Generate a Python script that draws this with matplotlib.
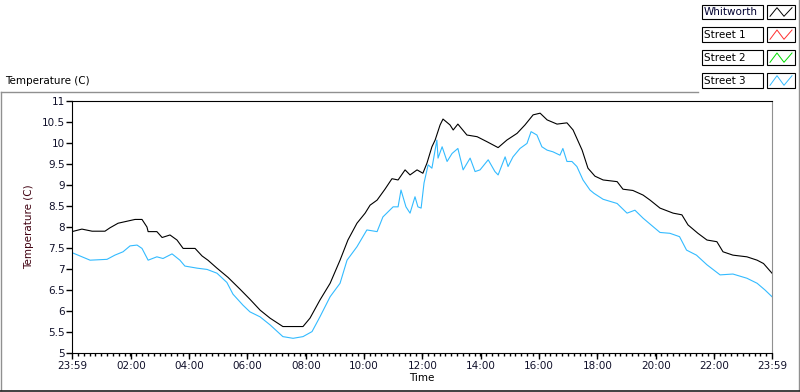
import matplotlib
matplotlib.use("Agg")
import matplotlib.pyplot as plt
from matplotlib.lines import Line2D
from matplotlib.patches import Rectangle
from matplotlib.ticker import MultipleLocator

# hours since 23:59 of the previous day
whit_t = [0.0, 0.34, 0.69, 1.13, 1.30, 1.58, 2.16, 2.40, 2.57, 2.61, 2.91, 3.09, 3.36,
          3.60, 3.81, 4.22, 4.46, 4.66, 4.97, 5.35, 5.76, 6.10, 6.45, 6.79, 7.23, 7.92,
          8.16, 8.50, 8.85, 9.19, 9.46, 9.77, 10.05, 10.22, 10.46, 10.73, 10.97, 11.18,
          11.42, 11.59, 11.83, 12.03, 12.17, 12.34, 12.45, 12.62, 12.72, 12.96, 13.07,
          13.23, 13.54, 13.89, 14.23, 14.61, 14.91, 15.26, 15.53, 15.81, 16.05, 16.29,
          16.63, 16.97, 17.18, 17.49, 17.69, 17.93, 18.21, 18.69, 18.89, 19.23, 19.58,
          19.82, 20.16, 20.61, 20.91, 21.12, 21.46, 21.77, 22.11, 22.32, 22.66, 23.14,
          23.49, 23.71, 24.0]
whit_v = [7.89, 7.95, 7.90, 7.90, 7.98, 8.09, 8.18, 8.18, 8.00, 7.89, 7.89, 7.75, 7.81,
          7.69, 7.49, 7.49, 7.31, 7.21, 7.02, 6.80, 6.52, 6.28, 6.02, 5.83, 5.63, 5.63,
          5.83, 6.26, 6.66, 7.21, 7.69, 8.09, 8.33, 8.52, 8.64, 8.90, 9.15, 9.12,
          9.36, 9.24, 9.36, 9.28, 9.52, 9.91, 10.07, 10.43, 10.57, 10.43, 10.31,
          10.45, 10.19, 10.15, 10.03, 9.89, 10.07, 10.23, 10.43, 10.67, 10.71, 10.55,
          10.45, 10.48, 10.31, 9.83, 9.40, 9.21, 9.12, 9.08, 8.90, 8.87, 8.76,
          8.64, 8.45, 8.33, 8.29, 8.05, 7.85, 7.69, 7.65, 7.41, 7.33, 7.29,
          7.21, 7.13, 6.90]

st3_t = [0.0, 0.62, 1.20, 1.47, 1.75, 1.99, 2.23, 2.40, 2.61, 2.91, 3.12, 3.43, 3.70,
         3.87, 4.29, 4.63, 4.97, 5.31, 5.52, 5.86, 6.10, 6.45, 6.79, 7.23, 7.58, 7.92,
         8.23, 8.50, 8.85, 9.19, 9.43, 9.77, 10.11, 10.46, 10.66, 11.01, 11.18, 11.28,
         11.45, 11.59, 11.76, 11.86, 11.97, 12.07, 12.21, 12.34, 12.51, 12.55, 12.69,
         12.86, 13.03, 13.23, 13.41, 13.65, 13.82, 13.99, 14.27, 14.50, 14.61, 14.85,
         14.95, 15.12, 15.36, 15.60, 15.74, 15.94, 16.11, 16.29, 16.49, 16.73, 16.83,
         16.97, 17.14, 17.31, 17.52, 17.76, 17.90, 18.21, 18.69, 19.03, 19.30, 19.58,
         19.92, 20.16, 20.50, 20.83, 21.07, 21.41, 21.77, 22.22, 22.66, 23.14, 23.49,
         23.76, 24.0]
st3_v = [7.39, 7.21, 7.23, 7.33, 7.41, 7.55, 7.57, 7.49, 7.21, 7.29, 7.25, 7.36, 7.21,
         7.07, 7.02, 6.99, 6.90, 6.68, 6.40, 6.14, 5.98, 5.86, 5.67, 5.39, 5.35, 5.39,
         5.51, 5.86, 6.34, 6.66, 7.21, 7.53, 7.93, 7.89, 8.24, 8.48, 8.48, 8.88,
         8.48, 8.33, 8.72, 8.48, 8.45, 9.05, 9.48, 9.40, 10.07, 9.64, 9.91,
         9.56, 9.75, 9.87, 9.36, 9.64, 9.32, 9.36, 9.60, 9.32, 9.24, 9.67,
         9.44, 9.67, 9.87, 9.99, 10.27, 10.19, 9.91, 9.83, 9.79, 9.71, 9.87,
         9.56, 9.56, 9.44, 9.12, 8.88, 8.80, 8.66, 8.56, 8.33, 8.40, 8.21,
         8.01, 7.87, 7.85, 7.77, 7.45, 7.33, 7.10, 6.86, 6.88, 6.78, 6.66,
         6.50, 6.34]

series = ["Whitworth", "Street 1", "Street 2", "Street 3"]
colors = ["black", "#ff3030", "#00dd00", "#33bbff"]

x_ticks = [0, 2.0167, 4.0167, 6.0167, 8.0167, 10.0167, 12.0167, 14.0167, 16.0167,
           18.0167, 20.0167, 22.0167, 24]
x_labels = ["23:59", "02:00", "04:00", "06:00", "08:00", "10:00", "12:00", "14:00",
            "16:00", "18:00", "20:00", "22:00", "23:59"]

plt.rcParams['font.family'] = 'DejaVu Sans'
W, H = 800, 392
fig = plt.figure(figsize=(8, 3.92), dpi=100)


def fx(px):
    return px / W


def fy(py):
    return 1 - py / H


ax = fig.add_axes([fx(72), fy(353), fx(772) - fx(72), fy(101) - fy(353)])
ax.plot(whit_t, whit_v, color=colors[0], lw=0.8)
ax.plot(st3_t, st3_v, color=colors[3], lw=0.8)
ax.set_xlim(0, 24)
ax.set_ylim(5, 11)
ax.set_yticks([5 + 0.5 * i for i in range(13)])
ax.set_yticklabels(["5", "5.5", "6", "6.5", "7", "7.5", "8", "8.5", "9", "9.5",
                    "10", "10.5", "11"])
ax.set_xticks(x_ticks)
ax.set_xticklabels(x_labels)
ax.xaxis.set_minor_locator(MultipleLocator(0.2))
ax.tick_params(axis='both', which='major', labelsize=7.5, colors='black',
               labelcolor='#10102a', length=4, width=1)
ax.tick_params(axis='x', which='minor', length=2.5, width=1)
ax.tick_params(axis='x', pad=2)
ax.tick_params(axis='y', pad=1)
ax.spines['right'].set_color('#909090')
ax.set_ylabel('Temperature (C)', fontsize=7.5, color='#400010', labelpad=6)
ax.set_xlabel('Time', fontsize=7.5, color='black', labelpad=1)

# outer panel frame
fig.add_artist(Line2D([fx(0.5), fx(0.5)], [fy(92), fy(390)], color='#909090', lw=1))
fig.add_artist(Line2D([fx(0.5), fx(698)], [fy(92), fy(92)], color='#909090', lw=1))
fig.add_artist(Line2D([fx(798.5), fx(798.5)], [fy(0), fy(390)], color='#909090', lw=1))
fig.add_artist(Line2D([fx(0), fx(800)], [fy(390.5), fy(390.5)], color='#202020', lw=1.2))
fig.text(fx(5), fy(81), 'Temperature (C)', fontsize=7.5, va='center', ha='left')

# legend (LabVIEW style)
rows = [(4.7, 19.3), (27, 42.3), (50, 65.3), (72.7, 88.3)]
for name, col, (y0, y1) in zip(series, colors, rows):
    fig.add_artist(Rectangle((fx(702), fy(y1)), fx(763) - fx(702), fy(y0) - fy(y1),
                             facecolor='white', edgecolor='black', lw=0.8))
    fig.add_artist(Rectangle((fx(767), fy(y1)), fx(795) - fx(767), fy(y0) - fy(y1),
                             facecolor='white', edgecolor='black', lw=0.8))
    fig.text(fx(704), fy((y0 + y1) / 2), name, fontsize=7.5, va='center', ha='left',
             color='#000030' if name == "Whitworth" else 'black')
    zx = [770, 777, 784, 792]
    zy = [y1 - 3, y0 + 3, y1 - 3, y0 + 3]
    fig.add_artist(Line2D([fx(v) for v in zx], [fy(v) for v in zy], color=col, lw=0.7))

fig.savefig('out.png', dpi=100)
